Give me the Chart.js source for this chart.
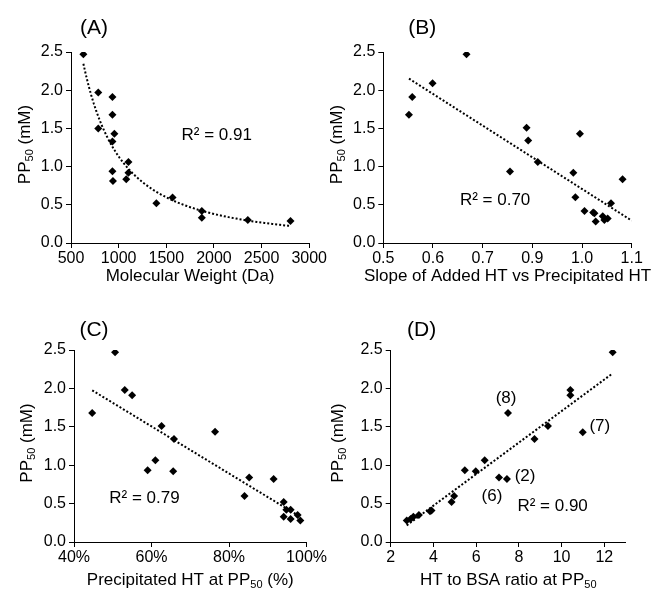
<!DOCTYPE html>
<html>
<head>
<meta charset="utf-8">
<script src="https://cdn.jsdelivr.net/npm/chart.js@4/dist/chart.umd.min.js"></script>
<style>
  html, body { margin:0; padding:0; background:#fff; }
  #wrap { position:relative; width:656px; height:593px; overflow:hidden; }
  canvas { position:absolute; }
</style>
</head>
<body>
<div id="wrap">
  <canvas id="cA"></canvas>
  <canvas id="cB"></canvas>
  <canvas id="cC"></canvas>
  <canvas id="cD"></canvas>
</div>
<script>
// ---------------- DATA ----------------
// Panel A: molecular weight (Da) vs PP50 (mM)
const mwA = [630, 786, 786, 935, 935, 955, 935, 935, 940, 1103, 1103, 1080, 1396, 1566, 1873, 1873, 2356, 2804];
const ppA = [2.47, 1.97, 1.50, 1.91, 1.68, 1.43, 1.33, 0.94, 0.81, 1.06, 0.92, 0.835, 0.52, 0.595, 0.42, 0.33, 0.30, 0.287];
// Panel B: slope of added HT vs precipitated HT
const slopeB = [0.562, 0.570, 0.619, 0.701, 0.806, 0.846, 0.850, 0.873, 0.959, 0.964, 0.975, 0.986, 1.007, 1.010, 1.013, 1.030, 1.034, 1.042, 1.050, 1.078];
const ppB = [1.68, 1.91, 2.09, 2.47, 0.935, 1.51, 1.34, 1.06, 0.92, 0.60, 1.43, 0.42, 0.40, 0.39, 0.28, 0.35, 0.30, 0.32, 0.52, 0.835];
// Panel C: precipitated HT at PP50 (%)
const precC = [44.7, 50.6, 53.1, 55.0, 62.6, 65.8, 59.0, 61.0, 65.6, 76.4, 85.2, 84.0, 91.5, 94.1, 94.1, 94.8, 95.9, 95.9, 97.7, 98.4];
const ppC = [1.68, 2.47, 1.98, 1.91, 1.51, 1.34, 0.935, 1.065, 0.92, 1.435, 0.84, 0.60, 0.82, 0.52, 0.33, 0.42, 0.42, 0.30, 0.35, 0.28];
// Panel D: HT to BSA ratio at PP50
const ratioD = [12.39, 10.41, 10.41, 7.49, 9.36, 8.73, 10.99, 6.40, 5.47, 5.98, 7.07, 7.44, 4.97, 4.85, 3.91, 3.84, 3.32, 3.06, 2.93, 2.75];
const ppD = [2.47, 1.98, 1.91, 1.68, 1.51, 1.34, 1.43, 1.065, 0.935, 0.92, 0.84, 0.82, 0.60, 0.52, 0.41, 0.40, 0.35, 0.33, 0.30, 0.28];

// Tick values
const yTicks = [0, 0.5, 1.0, 1.5, 2.0, 2.5];
const xTicksA = [500, 1000, 1500, 2000, 2500, 3000];
const xTicksB = [0.5, 0.62, 0.74, 0.86, 0.98, 1.1];
const xTicksC = [40, 60, 80, 100];
const xTicksD = [2, 4, 6, 8, 10, 12];

// Texts
const panelLabels = ['(A)', '(B)', '(C)', '(D)'];
const r2Texts = ['R\u00B2 = 0.91', 'R\u00B2 = 0.70', 'R\u00B2 = 0.79', 'R\u00B2 = 0.90'];
// R² label anchors in data units (left edge, vertical middle)
const r2PosA = [1660, 1.41];
const r2PosB = [0.685, 0.565];
const r2PosC = [49.1, 0.574];
const r2PosD = [7.93, 0.46];
// compound labels in panel D (centre, data units)
const dLabels = ['(8)', '(7)', '(2)', '(6)'];
const dLabelX = [7.40, 11.79, 8.29, 6.74];
const dLabelY = [1.87, 1.51, 0.85, 0.60];

// ---------------- helpers ----------------
const FONT = '"Liberation Sans", Arial, Helvetica, sans-serif';
const TICK_SIZE = 16, TITLE_SIZE = 17, NOTE_SIZE = 17, PANEL_SIZE = 21;

function linFit(xs, ys) {
  const n = xs.length;
  const mx = xs.reduce((a, b) => a + b, 0) / n;
  const my = ys.reduce((a, b) => a + b, 0) / n;
  let sxy = 0, sxx = 0;
  for (let i = 0; i < n; i++) { sxy += (xs[i] - mx) * (ys[i] - my); sxx += (xs[i] - mx) ** 2; }
  const b = sxy / sxx;
  return { b, a: my - b * mx };
}
function powerTrend(xs, ys, n) {
  const f = linFit(xs.map(Math.log), ys.map(Math.log));
  const x0 = Math.min(...xs), x1 = Math.max(...xs);
  const pts = [];
  for (let i = 0; i <= n; i++) {
    const x = x0 + (x1 - x0) * i / n;
    pts.push({ x, y: Math.exp(f.a) * Math.pow(x, f.b) });
  }
  return pts;
}
function linearTrend(xs, ys, xEnd) {
  const f = linFit(xs, ys);
  const x0 = Math.min(...xs), x1 = xEnd !== undefined ? xEnd : Math.max(...xs);
  return [{ x: x0, y: f.a + f.b * x0 }, { x: x1, y: f.a + f.b * x1 }];
}

// draw text made of parts ({t, sub}) centred at (x,y), rotated by rot
function drawRich(ctx, parts, x, y, size, rot) {
  ctx.save();
  ctx.translate(x, y);
  ctx.rotate(rot || 0);
  const subSize = Math.round(size * 0.65);
  let total = 0;
  const widths = parts.map(p => {
    ctx.font = (p.sub ? subSize : size) + 'px ' + FONT;
    const w = ctx.measureText(p.t).width;
    total += w;
    return w;
  });
  let cx = -total / 2;
  ctx.fillStyle = '#000';
  ctx.textBaseline = 'middle';
  ctx.textAlign = 'left';
  parts.forEach((p, i) => {
    ctx.font = (p.sub ? subSize : size) + 'px ' + FONT;
    ctx.fillText(p.t, cx, p.sub ? size * 0.28 : 0);
    cx += widths[i];
  });
  ctx.restore();
}

const yTitleParts = [{ t: 'PP' }, { t: '50', sub: true }, { t: ' (mM)' }];

function makePanel(id, opt) {
  const cv = document.getElementById(id);
  cv.width = opt.w; cv.height = opt.h;
  cv.style.left = opt.left + 'px'; cv.style.top = opt.top + 'px';
  cv.style.width = opt.w + 'px'; cv.style.height = opt.h + 'px';
  const A = opt.area;
  const pts = opt.xs.map((x, i) => ({ x, y: opt.ys[i] }));

  const textPlugin = {
    id: 'texts_' + id,
    afterDraw(chart) {
      const ctx = chart.ctx;
      const xs = chart.scales.x, ys = chart.scales.y;
      const ca = chart.chartArea;
      ctx.save();
      ctx.fillStyle = '#000';
      ctx.textBaseline = 'middle';
      // panel label
      ctx.font = PANEL_SIZE + 'px ' + FONT;
      ctx.textAlign = 'center';
      ctx.fillText(opt.label, ca.left + opt.labelDx, ca.top - opt.labelDy);
      // R²
      ctx.font = NOTE_SIZE + 'px ' + FONT;
      ctx.textAlign = 'left';
      ctx.fillText(opt.r2, xs.getPixelForValue(opt.r2Pos[0]), ys.getPixelForValue(opt.r2Pos[1]));
      // extra labels
      if (opt.extra) {
        ctx.textAlign = 'center';
        opt.extra.labels.forEach((t, i) => {
          ctx.fillText(t, xs.getPixelForValue(opt.extra.x[i]), ys.getPixelForValue(opt.extra.y[i]));
        });
      }
      ctx.restore();
      // y title
      drawRich(ctx, yTitleParts, ca.left - opt.yTitleDx, (ca.top + ca.bottom) / 2 - 3, TITLE_SIZE, -Math.PI / 2);
      // x title
      drawRich(ctx, opt.xTitle, (ca.left + ca.right) / 2, ca.bottom + opt.xTitleDy, TITLE_SIZE, 0);
    }
  };

  new Chart(cv, {
    type: 'scatter',
    data: {
      datasets: [
        {
          data: opt.trend, type: 'line', showLine: true, borderColor: '#000',
          borderWidth: 2, borderDash: [2, 2], pointRadius: 0, fill: false,
          tension: 0, order: 2
        },
        {
          data: pts, pointStyle: 'rectRot', pointRadius: 4, pointHoverRadius: 4,
          backgroundColor: '#000', borderColor: '#000', borderWidth: 0, order: 1
        }
      ]
    },
    options: {
      responsive: false, animation: false, devicePixelRatio: 1,
      events: [],
      layout: { padding: { left: 0, top: A.t, right: opt.w - A.r, bottom: 0 } },
      plugins: { legend: { display: false }, tooltip: { enabled: false }, title: { display: false } },
      scales: {
        x: {
          type: 'linear', min: opt.xmin, max: opt.xmax,
          afterBuildTicks: s => { s.ticks = opt.xTicks.map(v => ({ value: v })); },
          afterFit: s => { s.height = opt.h - A.b; },
          grid: { drawOnChartArea: false, drawTicks: true, tickLength: 5, color: '#000', lineWidth: 1 },
          border: { display: true, color: '#000', width: 1 },
          ticks: { color: '#000', font: { family: FONT, size: TICK_SIZE }, padding: 1, maxRotation: 0, autoSkip: false,
                   callback: opt.xFmt }
        },
        y: {
          type: 'linear', min: 0, max: 2.5,
          afterBuildTicks: s => { s.ticks = yTicks.map(v => ({ value: v })); },
          afterFit: s => { s.width = A.l; },
          grid: { drawOnChartArea: false, drawTicks: true, tickLength: 5, color: '#000', lineWidth: 1 },
          border: { display: true, color: '#000', width: 1 },
          ticks: { color: '#000', font: { family: FONT, size: TICK_SIZE }, padding: 3, autoSkip: false,
                   callback: v => Number(v).toFixed(1) }
        }
      }
    },
    plugins: [textPlugin]
  });
}

makePanel('cA', {
  left: 0, top: 0, w: 328, h: 296, area: { l: 71, r: 312, t: 52, b: 243 },
  xs: mwA, ys: ppA, xmin: 500, xmax: 3000, xTicks: xTicksA, xFmt: v => String(v),
  trend: powerTrend(mwA, ppA, 80), label: panelLabels[0], labelDx: 23, labelDy: 24,
  r2: r2Texts[0], r2Pos: r2PosA, yTitleDx: 46, xTitleDy: 33,
  xTitle: [{ t: 'Molecular Weight (Da)' }]
});
makePanel('cB', {
  left: 322, top: 0, w: 334, h: 296, area: { l: 61.3, r: 309.7, t: 52, b: 243 },
  xs: slopeB, ys: ppB, xmin: 0.5, xmax: 1.1, xTicks: xTicksB, xFmt: v => Number(v).toFixed(1),
  trend: linearTrend(slopeB, ppB, 1.1), label: panelLabels[1], labelDx: 39, labelDy: 24,
  r2: r2Texts[1], r2Pos: r2PosB, yTitleDx: 46, xTitleDy: 33,
  xTitle: [{ t: 'Slope of Added HT vs Precipitated HT' }]
});
makePanel('cC', {
  left: 0, top: 296, w: 328, h: 297, area: { l: 74, r: 310.7, t: 54, b: 246 },
  xs: precC, ys: ppC, xmin: 40, xmax: 100, xTicks: xTicksC, xFmt: v => v + '%',
  trend: linearTrend(precC, ppC), label: panelLabels[2], labelDx: 20, labelDy: 20,
  r2: r2Texts[2], r2Pos: r2PosC, yTitleDx: 47, xTitleDy: 38,
  xTitle: [{ t: 'Precipitated HT at PP' }, { t: '50', sub: true }, { t: ' (%)' }]
});
makePanel('cD', {
  left: 322, top: 296, w: 334, h: 297, area: { l: 68.7, r: 303.7, t: 54, b: 246 },
  xs: ratioD, ys: ppD, xmin: 2, xmax: 13, xTicks: xTicksD, xFmt: v => String(v),
  trend: linearTrend(ratioD, ppD), label: panelLabels[3], labelDx: 31, labelDy: 20,
  r2: r2Texts[3], r2Pos: r2PosD, yTitleDx: 52, xTitleDy: 38,
  extra: { labels: dLabels, x: dLabelX, y: dLabelY },
  xTitle: [{ t: 'HT to BSA ratio at PP' }, { t: '50', sub: true }]
});
</script>
</body>
</html>
